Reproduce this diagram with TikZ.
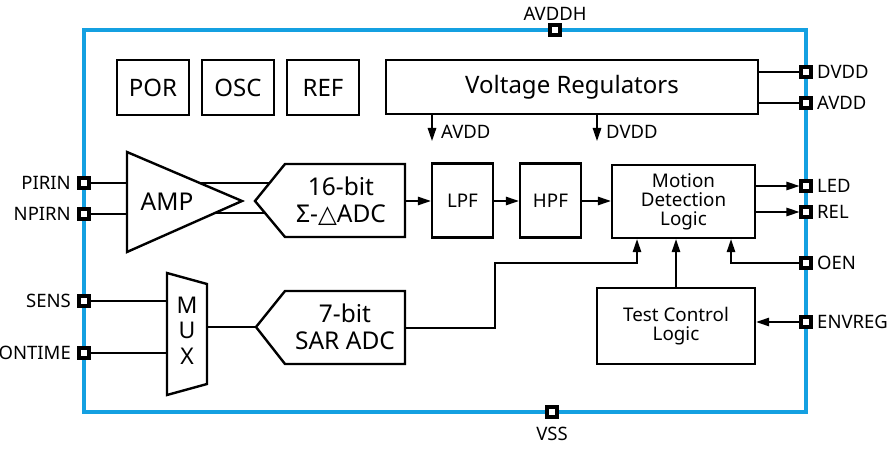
\documentclass[tikz,border=0pt]{standalone}
\usepackage{fontspec}
\setmainfont{Noto Sans}
\newfontfamily\symfont{DejaVu Sans}
\usetikzlibrary{arrows.meta}
\definecolor{frameblue}{RGB}{20,160,225}
\begin{document}
\begin{tikzpicture}[x=1pt,y=-1pt,
  blk/.style={draw,line width=2.4pt,inner sep=0pt,align=center,font=\fontsize{24}{26}\selectfont},
  shp/.style={draw,line width=2.4pt,line join=miter},
  pinbox/.style={draw=black,fill=white,line width=3.2pt,minimum size=10pt,inner sep=0pt},
  plbl/.style={font=\fontsize{18.5}{20}\selectfont,inner sep=0pt},
  wire/.style={line width=1.4pt},
  arr/.style={wire,-{Triangle[length=13pt,width=8.5pt]}},
  small/.style={font=\fontsize{18.8}{19}\selectfont,align=center},
  bigtxt/.style={font=\fontsize{24.5}{27}\selectfont,align=center},
]
\useasboundingbox (0,0) rectangle (890,462);
% frame
\draw[frameblue,line width=4.5pt] (84,30) rectangle (806,412);
% pins
\node[pinbox] (pAVDDH) at (555,30) {};
\node[plbl,anchor=south] (lAVDDH) at (555,21) {AVDDH};
\node[pinbox] (pVSS) at (552,412) {};
\node[plbl,anchor=north] (lVSS) at (552,427) {VSS};
\foreach \n/\y in {PIRIN/183,NPIRN/214,SENS/301,ONTIME/353}{
  \node[pinbox] (p\n) at (84,\y) {};
  \node[plbl,anchor=east] (l\n) at (71,\y) {\n};
}
\foreach \n/\nm/\y in {DVDD/DVDD/72,AVDD/AVDD/103,LED/LED/186,REL/REL/212,OEN/OEN/263,ENVREG/ENVREG/322}{
  \node[pinbox] (p\n) at (806,\y) {};
  \node[plbl,anchor=west] (l\n) at (817,\y) {\nm};
}
% top blocks
\node[blk,minimum width=72pt,minimum height=55pt] (por) at (153,87.5) {POR};
\node[blk,minimum width=72pt,minimum height=55pt] (osc) at (238,87.5) {OSC};
\node[blk,minimum width=72pt,minimum height=55pt] (ref) at (323,87.5) {REF};
\node[blk,minimum width=372pt,minimum height=54pt] (vr) at (572,87) {Voltage Regulators};
% AMP
\draw[shp] (127,152) -- (242,201) -- (127,252) -- cycle;
\node[bigtxt] (amp) at (167,202) {AMP};
% 16-bit ADC
\draw[shp] (255,201) -- (285,164) -- (405,164) -- (405,237) -- (285,237) -- cycle;
\node[bigtxt] (adc) at (341,201) {16-bit\\Σ-{\symfont △}ADC};
% MUX
\draw[shp] (167,273) -- (207,284) -- (207,384) -- (167,395) -- cycle;
\node[font=\fontsize{23}{24}\selectfont] (muxm) at (187,305) {M};
\node[font=\fontsize{23}{24}\selectfont] (muxu) at (187,330) {U};
\node[font=\fontsize{23}{24}\selectfont] (muxx) at (187,356) {X};
% SAR ADC
\draw[shp] (256,327) -- (285,291) -- (405,291) -- (405,364) -- (285,364) -- cycle;
\node[bigtxt] (sar) at (345,327) {7-bit\\SAR ADC};
% filters, logic
\node[blk,small,minimum width=61pt,minimum height=74pt] (lpf) at (462.5,200.5) {LPF};
\node[blk,small,minimum width=61pt,minimum height=74pt] (hpf) at (550.5,200.5) {HPF};
\node[blk,small,minimum width=143pt,minimum height=73pt] (mdl) at (683.5,201.5) {Motion\\Detection\\Logic};
\node[blk,small,minimum width=158pt,minimum height=76pt] (tcl) at (676,326) {Test Control\\Logic};
% coordinates
\coordinate (ampi1) at (127,183);
\coordinate (ampi2) at (127,214);
\coordinate (ampo1) at (200,183);
\coordinate (ampo2) at (215,213);
\coordinate (adci1) at (270,183);
\coordinate (adci2) at (265,213);
\coordinate (adco) at (405,201);
\coordinate (muxi1) at (167,301);
\coordinate (muxi2) at (167,353);
\coordinate (muxo) at (207,327);
\coordinate (sari) at (256,327);
\coordinate (saro) at (405,328);
% wires
\draw[wire] (pPIRIN) -- (ampi1);
\draw[wire] (pNPIRN) -- (ampi2);
\draw[wire] (ampo1) -- (adci1);
\draw[wire] (ampo2) -- (adci2);
\draw[wire] (pSENS) -- (muxi1);
\draw[wire] (pONTIME) -- (muxi2);
\draw[wire] (muxo) -- (sari);
\draw[wire] (vr.east |- pDVDD) -- (pDVDD);
\draw[wire] (vr.east |- pAVDD) -- (pAVDD);
\coordinate (va) at (432,141);
\coordinate (vd) at (597,141);
\draw[arr] (vr.south -| va) -- (va);
\draw[arr] (vr.south -| vd) -- (vd);
\node[plbl,anchor=west] (lva) at (441,132) {AVDD};
\node[plbl,anchor=west] (lvd) at (606,132) {DVDD};
\draw[arr] (adco) -- (lpf.west |- adco);
\draw[arr] (lpf.east |- adco) -- (hpf.west |- adco);
\draw[arr] (hpf.east |- adco) -- (mdl.west |- adco);
\draw[arr] (mdl.east |- pLED) -- (pLED);
\draw[arr] (mdl.east |- pREL) -- (pREL);
\draw[arr] (saro) -- (495,328) -- (495,263) -- (637,263) -- (mdl.south -| 637,0);
\draw[arr] (tcl.north) -- (mdl.south -| tcl.north);
\draw[arr] (pOEN) -- (731,263) -- (mdl.south -| 731,0);
\draw[arr] (pENVREG) -- (tcl.east |- pENVREG);
\end{tikzpicture}
\end{document}
